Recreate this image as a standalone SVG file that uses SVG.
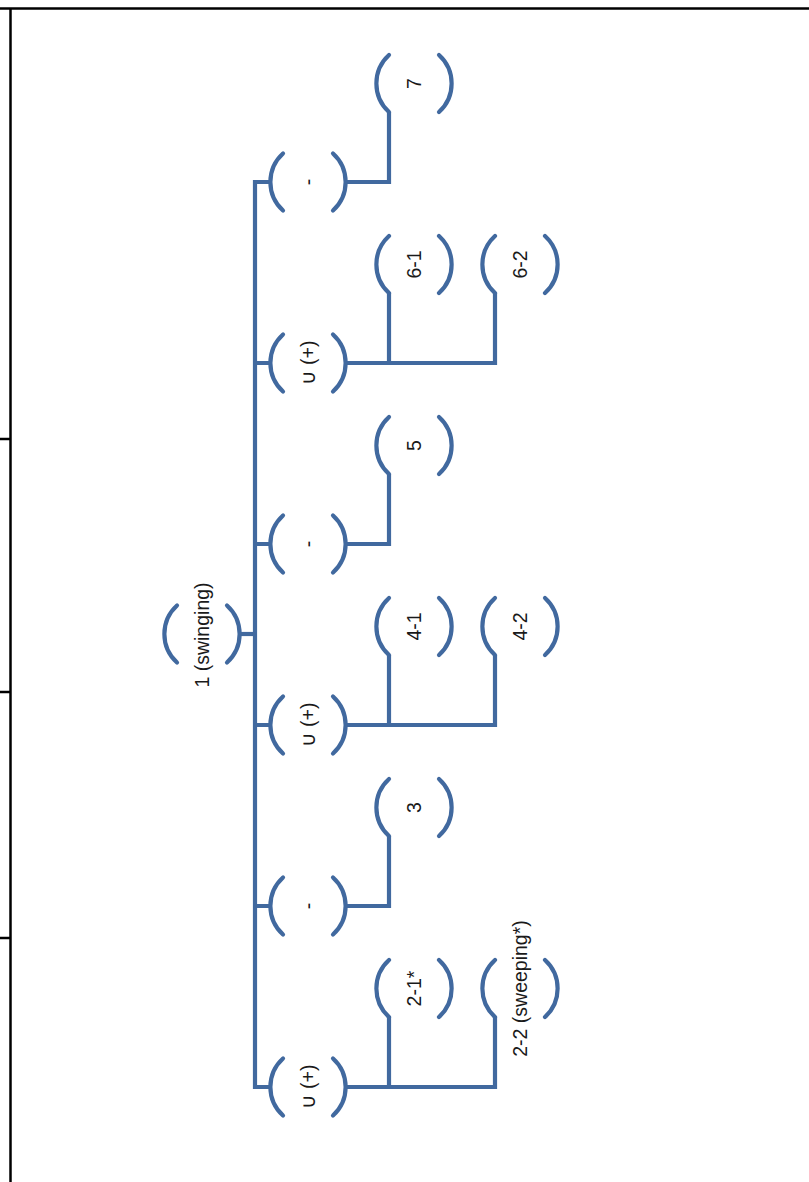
<svg xmlns="http://www.w3.org/2000/svg" width="809" height="1182" viewBox="0 0 809 1182">
  <defs>
    <style>
      .frame { stroke: #000; stroke-width: 2.5; fill: none; }
      .arc { stroke: #41699F; stroke-width: 4.2; fill: none; stroke-linecap: round; }
      .conn { stroke: #41699F; stroke-width: 4.2; fill: none; stroke-linejoin: miter; }
      .lbl { font-family: "Liberation Sans", Arial, sans-serif; font-size: 19.5px; fill: #1a1a1a; text-anchor: middle; dominant-baseline: central; }
    </style>
    <g id="br">
      <path class="arc" d="M-25 -28.5 A38.5 38.5 0 0 0 -25 28.5"/>
      <path class="arc" d="M25 -28.5 A38.5 38.5 0 0 1 25 28.5"/>
    </g>
  </defs>
  <rect width="809" height="1182" fill="#fff"/>

  <g id="table">
    <line class="frame" x1="0" y1="8.5" x2="809" y2="8.5"/>
    <line class="frame" x1="10.5" y1="8.5" x2="10.5" y2="1182"/>
    <line class="frame" x1="0" y1="439" x2="10.5" y2="439"/>
    <line class="frame" x1="0" y1="692" x2="10.5" y2="692"/>
    <line class="frame" x1="0" y1="938" x2="10.5" y2="938"/>
  </g>

  <g id="connectors">
    <path class="conn" d="M240 634 H255"/>
    <path class="conn" d="M269 182 H255 V1087 H269"/>
    <path class="conn" d="M255 363 H269 M255 544 H269 M255 725 H269 M255 906 H269"/>
    <path class="conn" d="M347 182 H389 V112"/>
    <path class="conn" d="M347 363 H495 V293 M389 363 V293"/>
    <path class="conn" d="M347 544 H389 V474"/>
    <path class="conn" d="M347 725 H495 V655 M389 725 V655"/>
    <path class="conn" d="M347 906 H389 V836"/>
    <path class="conn" d="M347 1087 H495 V1017 M389 1087 V1017"/>
  </g>

  <g id="n1"><use href="#br" x="202" y="634"/><text class="lbl" transform="translate(202 635) rotate(-90)">1 (swinging)</text></g>

  <g id="p1"><use href="#br" x="308" y="182"/><text class="lbl" transform="translate(308 182) rotate(-90)">-</text></g>
  <g id="p2"><use href="#br" x="308" y="363"/><text class="lbl" transform="translate(308 363) rotate(-90)">∪ (+)</text></g>
  <g id="p3"><use href="#br" x="308" y="544"/><text class="lbl" transform="translate(308 544) rotate(-90)">-</text></g>
  <g id="p4"><use href="#br" x="308" y="725"/><text class="lbl" transform="translate(308 725) rotate(-90)">∪ (+)</text></g>
  <g id="p5"><use href="#br" x="308" y="906"/><text class="lbl" transform="translate(308 906) rotate(-90)">-</text></g>
  <g id="p6"><use href="#br" x="308" y="1087"/><text class="lbl" transform="translate(308 1087) rotate(-90)">∪ (+)</text></g>

  <g id="c7"><use href="#br" x="414" y="83.5"/><text class="lbl" transform="translate(414 83.5) rotate(-90)">7</text></g>
  <g id="c6-1"><use href="#br" x="414" y="264.5"/><text class="lbl" transform="translate(414 264.5) rotate(-90)">6-1</text></g>
  <g id="c6-2"><use href="#br" x="520" y="264.5"/><text class="lbl" transform="translate(520 264.5) rotate(-90)">6-2</text></g>
  <g id="c5"><use href="#br" x="414" y="445.5"/><text class="lbl" transform="translate(414 445.5) rotate(-90)">5</text></g>
  <g id="c4-1"><use href="#br" x="414" y="626.5"/><text class="lbl" transform="translate(414 626.5) rotate(-90)">4-1</text></g>
  <g id="c4-2"><use href="#br" x="520" y="626.5"/><text class="lbl" transform="translate(520 626.5) rotate(-90)">4-2</text></g>
  <g id="c3"><use href="#br" x="414" y="807.5"/><text class="lbl" transform="translate(414 807.5) rotate(-90)">3</text></g>
  <g id="c2-1"><use href="#br" x="414" y="988.5"/><text class="lbl" transform="translate(414 988.5) rotate(-90)">2-1*</text></g>
  <g id="c2-2"><use href="#br" x="520" y="988.5"/><text class="lbl" transform="translate(520 988.5) rotate(-90)">2-2 (sweeping*)</text></g>
</svg>
